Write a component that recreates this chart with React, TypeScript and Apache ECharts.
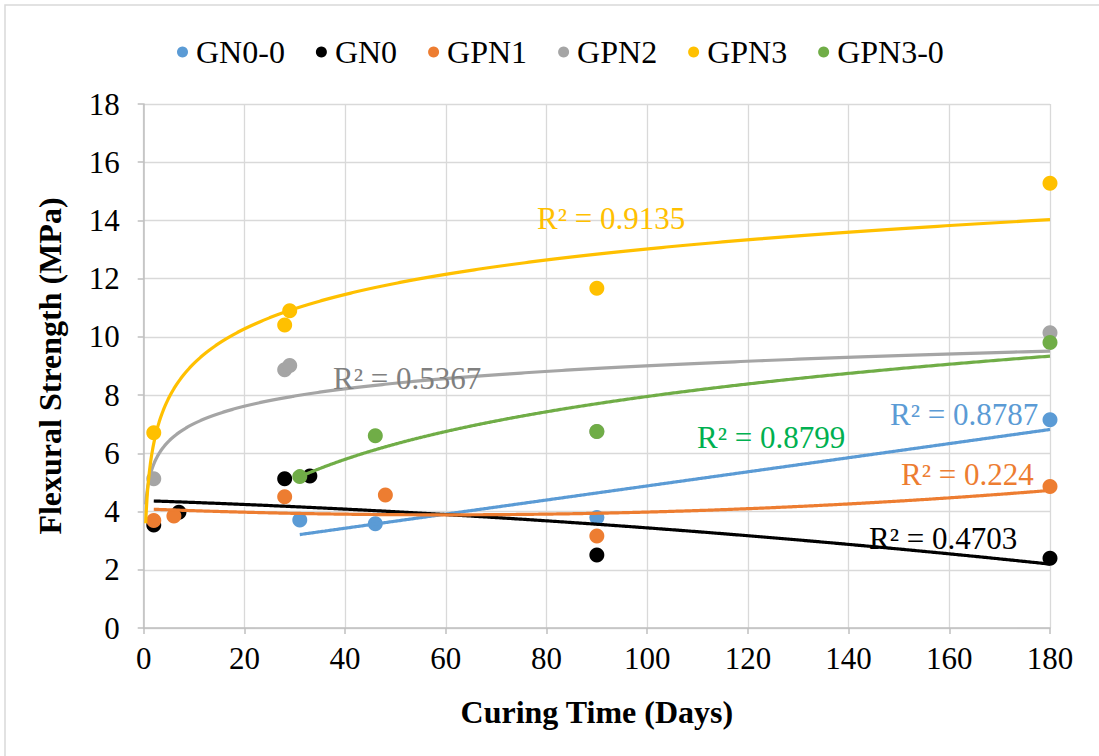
import React, { useEffect, useRef } from "react";
import * as echarts from "echarts";

// Curing time (days) and flexural strength (MPa) for each mix
const seriesNames = ["GN0-0", "GN0", "GPN1", "GPN2", "GPN3", "GPN3-0"];

const gn00Days = [31, 46, 90, 180];
const gn00Strength = [3.71, 3.58, 3.8, 7.15];

const gn0Days = [2, 7, 28, 33, 90, 180];
const gn0Strength = [3.54, 3.98, 5.13, 5.22, 2.51, 2.4];

const gpn1Days = [2, 6, 28, 48, 90, 180];
const gpn1Strength = [3.69, 3.85, 4.51, 4.57, 3.16, 4.86];

const gpn2Days = [2, 28, 29, 90, 180];
const gpn2Strength = [5.13, 8.87, 9.02, 6.75, 10.14];

const gpn3Days = [2, 28, 29, 90, 180];
const gpn3Strength = [6.71, 10.41, 10.9, 11.67, 15.28];

const gpn30Days = [31, 46, 90, 180];
const gpn30Strength = [5.2, 6.6, 6.75, 9.81];

// Trendline type per mix and how far it is projected back before the first reading
const trendKinds = ["linear", "poly2", "poly2", "log", "log", "log"];
const trendBackward = [0, 0, 0, 1.6, 1.6, 0];
const r2Labels = ["R² = 0.8787", "R² = 0.4703", "R² = 0.224", "R² = 0.5367", "R² = 0.9135", "R² = 0.8799"];

const xTicks = { min: 0, max: 180, step: 20 };
const yTicks = { min: 0, max: 18, step: 2 };

const markerColors = ["#5b9bd5", "#000000", "#ed7d31", "#a5a5a5", "#ffc000", "#70ad47"];
const labelColors = ["#5b9bd5", "#000000", "#ed7d31", "#808080", "#ffc000", "#00b050"];
// label anchor (left edge, vertical middle) in pixels
const labelPos: [number, number][] = [
  [890, 414],
  [869, 538],
  [901, 474],
  [333, 378],
  [537, 218],
  [697, 437],
];

const FONT = '"Liberation Serif", "Times New Roman", serif';

type Fit = (x: number) => number;

function linearFit(xs: number[], ys: number[]): Fit {
  const n = xs.length;
  const mx = xs.reduce((a, b) => a + b, 0) / n;
  const my = ys.reduce((a, b) => a + b, 0) / n;
  let sxx = 0;
  let sxy = 0;
  for (let i = 0; i < n; i++) {
    sxx += (xs[i] - mx) * (xs[i] - mx);
    sxy += (xs[i] - mx) * (ys[i] - my);
  }
  const slope = sxy / sxx;
  const icpt = my - slope * mx;
  return (x) => icpt + slope * x;
}

function quadFit(xs: number[], ys: number[]): Fit {
  // normal equations for y = c0 + c1 x + c2 x^2
  const s = [0, 0, 0, 0, 0];
  const t = [0, 0, 0];
  for (let i = 0; i < xs.length; i++) {
    let p = 1;
    for (let k = 0; k < 5; k++) {
      s[k] += p;
      if (k < 3) t[k] += p * ys[i];
      p *= xs[i];
    }
  }
  const m = [
    [s[0], s[1], s[2], t[0]],
    [s[1], s[2], s[3], t[1]],
    [s[2], s[3], s[4], t[2]],
  ];
  for (let c = 0; c < 3; c++) {
    for (let r = c + 1; r < 3; r++) {
      const f = m[r][c] / m[c][c];
      for (let k = c; k < 4; k++) m[r][k] -= f * m[c][k];
    }
  }
  const c = [0, 0, 0];
  for (let r = 2; r >= 0; r--) {
    let v = m[r][3];
    for (let k = r + 1; k < 3; k++) v -= m[r][k] * c[k];
    c[r] = v / m[r][r];
  }
  return (x) => c[0] + c[1] * x + c[2] * x * x;
}

function logFit(xs: number[], ys: number[]): Fit {
  const g = linearFit(xs.map(Math.log), ys);
  return (x) => g(Math.log(x));
}

const dayLists = [gn00Days, gn0Days, gpn1Days, gpn2Days, gpn3Days, gpn30Days];
const strengthLists = [gn00Strength, gn0Strength, gpn1Strength, gpn2Strength, gpn3Strength, gpn30Strength];

function trendPoints(i: number): [number, number][] {
  const xs = dayLists[i];
  const ys = strengthLists[i];
  const kind = trendKinds[i];
  const fit = kind === "linear" ? linearFit(xs, ys) : kind === "poly2" ? quadFit(xs, ys) : logFit(xs, ys);
  const x0 = Math.min(...xs) - trendBackward[i];
  const x1 = Math.max(...xs);
  const pts: [number, number][] = [];
  const steps = 600;
  for (let k = 0; k <= steps; k++) {
    // denser sampling near the start where log curves are steep
    const u = k / steps;
    const x = kind === "log" ? x0 * Math.pow(x1 / x0, u) : x0 + (x1 - x0) * u;
    pts.push([x, fit(x)]);
  }
  return pts;
}

export default function App() {
  const ref = useRef<HTMLDivElement>(null);

  useEffect(() => {
    if (!ref.current) return;
    const chart = echarts.init(ref.current, null, { renderer: "svg" });

    const scatterSeries = seriesNames.map((name, i) => ({
      name,
      type: "scatter",
      symbol: "circle",
      symbolSize: 15,
      z: 2,
      itemStyle: { color: markerColors[i], opacity: 1 },
      data: dayLists[i].map((d, j) => [d, strengthLists[i][j]]),
    }));

    const trendSeries = seriesNames.map((name, i) => ({
      name: name + " trend",
      type: "line",
      showSymbol: false,
      symbol: "none",
      silent: true,
      z: 3,
      lineStyle: { color: markerColors[i], width: 3.2 },
      data: trendPoints(i),
    }));

    const axisLabelStyle = { color: "#000", fontSize: 31, fontFamily: FONT };
    const gridLine = { show: true, lineStyle: { color: "#d9d9d9", width: 1.3 } };
    const axisLine = { show: true, onZero: false, lineStyle: { color: "#bfbfbf", width: 1.5 } };
    const axisTick = { show: true, inside: false, length: 6, lineStyle: { color: "#bfbfbf", width: 1.5 } };

    chart.setOption({
      animation: false,
      backgroundColor: "#ffffff",
      grid: { left: 143.7, right: 49, top: 104, bottom: 128, containLabel: false },
      legend: {
        data: seriesNames,
        left: 172,
        top: 31,
        icon: "circle",
        itemWidth: 11,
        itemHeight: 11,
        itemGap: 31,
        textStyle: { color: "#000", fontSize: 32, fontFamily: FONT, padding: [0, 0, 0, 3] },
      },
      xAxis: {
        type: "value",
        min: xTicks.min,
        max: xTicks.max,
        interval: xTicks.step,
        name: "Curing Time (Days)",
        nameLocation: "middle",
        nameGap: 68,
        nameTextStyle: { color: "#000", fontSize: 32, fontWeight: "bold", fontFamily: FONT },
        axisLine,
        axisTick,
        splitLine: gridLine,
        axisLabel: { ...axisLabelStyle, margin: 15 },
      },
      yAxis: {
        type: "value",
        min: yTicks.min,
        max: yTicks.max,
        interval: yTicks.step,
        name: "Flexural Strength (MPa)",
        nameLocation: "middle",
        nameGap: 78,
        nameTextStyle: { color: "#000", fontSize: 32, fontWeight: "bold", fontFamily: FONT },
        axisLine,
        axisTick,
        splitLine: gridLine,
        axisLabel: { ...axisLabelStyle, margin: 24 },
      },
      graphic: [
        {
          type: "rect",
          shape: { x: 5, y: 5, width: 1110, height: 770 },
          style: { fill: "none", stroke: "#d9d9d9", lineWidth: 1.5 },
          silent: true,
        },
        ...r2Labels.map((txt, i) => ({
          type: "text",
          x: labelPos[i][0],
          y: labelPos[i][1],
          z: 10,
          silent: true,
          style: {
            text: txt,
            fill: labelColors[i],
            fontSize: 31,
            fontFamily: FONT,
            align: "left",
            verticalAlign: "middle",
          },
        })),
      ],
      series: [...scatterSeries, ...trendSeries],
    });

    return () => chart.dispose();
  }, []);

  return (
    <div
      ref={ref}
      style={{ position: "absolute", left: 0, top: 0, width: 1099, height: 756, background: "#fff" }}
    />
  );
}
